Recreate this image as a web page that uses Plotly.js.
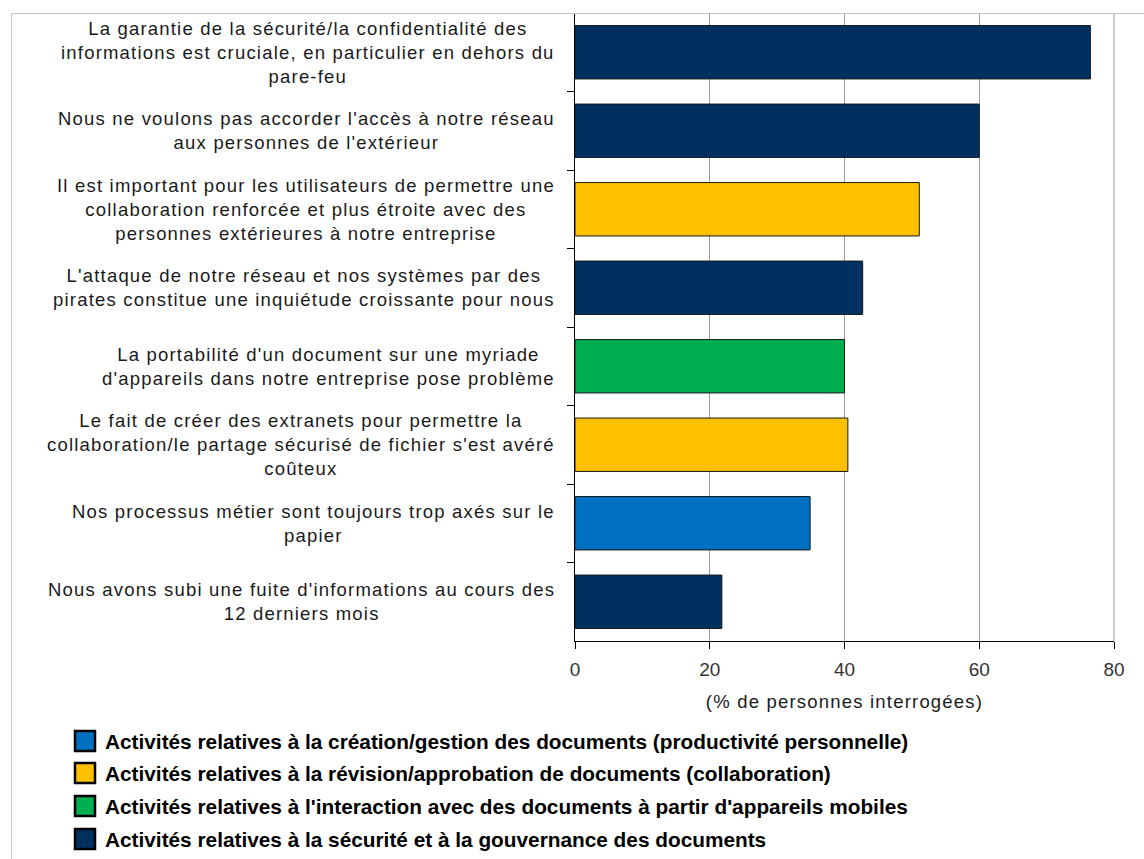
<!DOCTYPE html>
<html>
<head>
<meta charset="utf-8">
<script src="https://cdn.plot.ly/plotly-3.0.1.min.js"></script>
<style>
  html, body { margin: 0; padding: 0; background: #fff; }
  #chart { width: 1144px; height: 859px; }
  #frame { position: absolute; left: 11px; top: 13px; width: 1133px; height: 846px;
           border-top: 1px solid #c4c4c4; border-left: 1px solid #c4c4c4; pointer-events: none; }
</style>
</head>
<body>
<div id="chart"></div>
<div id="frame"></div>
<script>
// ---- data ----
const categories = [
  "La garantie de la sécurité/la confidentialité des<br>informations est cruciale, en particulier en dehors du<br>pare-feu",
  "Nous ne voulons pas accorder l'accès à notre réseau<br>aux personnes de l'extérieur",
  "Il est important pour les utilisateurs de permettre une<br>collaboration renforcée et plus étroite avec des<br>personnes extérieures à notre entreprise",
  "L'attaque de notre réseau et nos systèmes par des<br>pirates constitue une inquiétude croissante pour nous",
  "La portabilité d'un document sur une myriade<br>d'appareils dans notre entreprise pose problème",
  "Le fait de créer des extranets pour permettre la<br>collaboration/le partage sécurisé de fichier s'est avéré<br>coûteux",
  "Nos processus métier sont toujours trop axés sur le<br>papier",
  "Nous avons subi une fuite d'informations au cours des<br>12 derniers mois"
];
const values = [76.5, 60.0, 51.1, 42.7, 40.0, 40.5, 34.9, 21.8];
const groups = [3, 3, 1, 3, 2, 1, 0, 3];
const groupNames = [
  "Activités relatives à la création/gestion des documents (productivité personnelle)",
  "Activités relatives à la révision/approbation de documents (collaboration)",
  "Activités relatives à l'interaction avec des documents à partir d'appareils mobiles",
  "Activités relatives à la sécurité et à la gouvernance des documents"
];
const groupColors = ["#0070C0", "#FFC000", "#00B050", "#00305F"];
const xTicks = [0, 20, 40, 60, 80];
const xTitle = "(% de personnes interrogées)";

// ---- layout constants ----
const W = 1144, H = 859;
const L = 575, R = 30, T = 13, B = 218;
const plotW = W - L - R, plotH = H - T - B;
const FONT = "Liberation Sans, Arial, Helvetica, sans-serif";
const spaced = s => s.split("<br>").map(l => '<span style="letter-spacing:1.2px">' + l + '</span>').join("<br>");
const px2x = px => (px - L) / plotW;
const px2y = py => (H - B - py) / plotH;
const xMax = xTicks[xTicks.length - 1];

const trace = {
  type: "bar",
  orientation: "h",
  x: values,
  y: categories,
  marker: {
    color: groups.map(g => groupColors[g]),
    line: { color: "#1a1a1a", width: 1 }
  },
  hoverinfo: "x+y",
  showlegend: false
};

const annotations = categories.map(c => ({
  xref: "paper", yref: "y",
  x: 0, y: c,
  xshift: -18,
  xanchor: "right", yanchor: "middle",
  align: "center",
  showarrow: false,
  text: spaced(c),
  font: { family: FONT, size: 18.5, color: "#1a1a1a" }
}));

const shapes = [
  // grid line on the right edge of the plot area (value 80)
  { type: "line", xref: "paper", yref: "paper", x0: 1, x1: 1, y0: 0, y1: 1,
    line: { color: "#9a9a9a", width: 1 } }
];
const legendRowY = [741, 773, 806, 839];
groupNames.forEach((name, i) => {
  const cy = legendRowY[i];
  shapes.push({
    type: "rect", xref: "paper", yref: "paper",
    x0: px2x(75), x1: px2x(95), y0: px2y(cy + 10), y1: px2y(cy - 10),
    fillcolor: groupColors[i],
    line: { color: "#000", width: 2.5 }
  });
  annotations.push({
    xref: "paper", yref: "paper",
    x: px2x(103), y: px2y(cy),
    xanchor: "left", yanchor: "middle",
    showarrow: false,
    text: "<b>" + name + "</b>",
    font: { family: FONT, size: 20.8, color: "#000" }
  });
});

const layout = {
  width: W, height: H,
  margin: { l: L, r: R, t: T, b: B, pad: 0 },
  paper_bgcolor: "#fff",
  plot_bgcolor: "#fff",
  bargap: 0.32,
  font: { family: FONT, color: "#333" },
  xaxis: {
    range: [0, xMax],
    tickmode: "array",
    tickvals: xTicks,
    showgrid: true,
    gridcolor: "#9a9a9a",
    gridwidth: 1,
    zeroline: false,
    showline: true,
    linecolor: "#000",
    linewidth: 1,
    ticks: "outside",
    ticklen: 7,
    tickcolor: "#000",
    ticklabelstandoff: 4,
    tickfont: { family: FONT, size: 19, color: "#333" },
    title: { text: spaced(xTitle), font: { family: FONT, size: 18.5, color: "#1a1a1a" }, standoff: 16 },
    fixedrange: true
  },
  yaxis: {
    type: "category",
    categoryorder: "array",
    categoryarray: categories,
    autorange: "reversed",
    showticklabels: false,
    ticks: "outside",
    tickson: "boundaries",
    ticklen: 7,
    tickcolor: "#000",
    showgrid: false,
    zeroline: false,
    showline: true,
    linecolor: "#000",
    linewidth: 1,
    fixedrange: true
  },
  annotations: annotations,
  shapes: shapes
};

Plotly.newPlot("chart", [trace], layout, { displayModeBar: false, staticPlot: true });
</script>
</body>
</html>
